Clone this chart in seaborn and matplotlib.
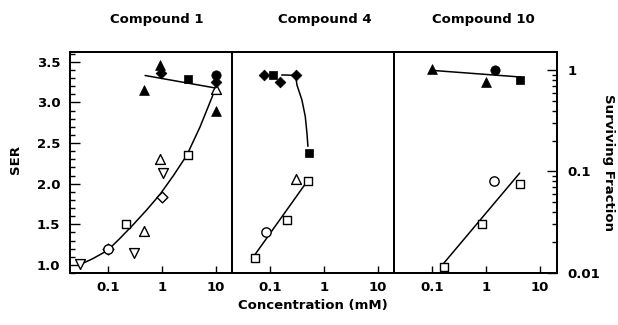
import numpy as np
import pandas as pd
import matplotlib
matplotlib.use("Agg")
import matplotlib.pyplot as plt
from matplotlib.ticker import FixedLocator, FixedFormatter, NullLocator, LogLocator, NullFormatter
import seaborn as sns

sns.set_theme(style="ticks")
plt.rcParams['font.family'] = ['DejaVu Sans']
plt.rcParams['font.weight'] = 'bold'
for k in ["text.color", "axes.labelcolor", "xtick.color", "ytick.color", "axes.edgecolor"]:
    plt.rcParams[k] = "black"

# ---------------- data ----------------
panel_titles = ["Compound 1", "Compound 4", "Compound 10"]
x_ticks = [0.1, 1, 10]
x_tick_labels = ["0.1", "1", "10"]
ser_ticks = [1.0, 1.5, 2.0, 2.5, 3.0, 3.5]
ser_tick_labels = ["1.0", "1.5", "2.0", "2.5", "3.0", "3.5"]
surv_ticks = [0.01, 0.1, 1]
surv_tick_labels = ["0.01", "0.1", "1"]

# Compound 1 : SER (open symbols)
c1_ser_x = [0.03, 0.31, 1.04, 0.10, 1.0, 0.10, 0.22, 3.0, 0.47, 0.93, 10.0]
c1_ser_y = [1.01, 1.15, 2.13, 1.20, 1.83, 1.19, 1.50, 2.35, 1.42, 2.30, 3.17]
c1_ser_exp = ["v", "v", "v", "D", "D", "o", "s", "s", "^", "^", "^"]
c1_ser_fit_x = [0.03, 0.054, 0.1, 0.17, 0.3, 0.53, 0.93, 1.64, 2.9, 5.1, 9.7]
c1_ser_fit_y = [1.0, 1.08, 1.18, 1.33, 1.50, 1.68, 1.87, 2.10, 2.35, 2.70, 3.16]
# Compound 1 : surviving fraction (filled symbols)
c1_sf_x = [0.93, 0.47, 10.0, 0.98, 10.0, 3.0, 10.0]
c1_sf_y = [1.12, 0.64, 0.40, 0.95, 0.76, 0.82, 0.89]
c1_sf_exp = ["^", "^", "^", "D", "D", "s", "o"]
c1_sf_fit_x = [0.49, 9.7]
c1_sf_fit_y = [0.89, 0.67]

# Compound 4 : SER
c4_ser_x = [0.30, 0.50, 0.206, 0.052, 0.085]
c4_ser_y = [2.06, 2.03, 1.55, 1.09, 1.40]
c4_ser_exp = ["^", "s", "s", "s", "o"]
c4_ser_fit_x = [0.052, 0.49]
c4_ser_fit_y = [1.12, 2.03]
# Compound 4 : surviving fraction
c4_sf_x = [0.076, 0.155, 0.30, 0.115, 0.52]
c4_sf_y = [0.89, 0.76, 0.89, 0.90, 0.152]
c4_sf_exp = ["D", "D", "D", "s", "s"]
c4_sf_fit_x = [0.165, 0.2, 0.3, 0.315, 0.39, 0.45, 0.483, 0.504]
c4_sf_fit_y = [0.90, 0.90, 0.89, 0.72, 0.51, 0.35, 0.24, 0.177]

# Compound 10 : SER
c10_ser_x = [1.38, 4.2, 0.84, 0.164]
c10_ser_y = [2.03, 1.99, 1.50, 0.98]
c10_ser_exp = ["o", "s", "s", "s"]
c10_ser_fit_x = [0.164, 4.17]
c10_ser_fit_y = [1.02, 2.13]
# Compound 10 : surviving fraction
c10_sf_x = [0.1, 1.0, 1.44, 4.3]
c10_sf_y = [1.03, 0.775, 1.0, 0.81]
c10_sf_exp = ["^", "^", "o", "s"]
c10_sf_fit_x = [0.1, 4.3]
c10_sf_fit_y = [1.0, 0.86]

panels = [
    (c1_ser_x, c1_ser_y, c1_ser_exp, c1_ser_fit_x, c1_ser_fit_y,
     c1_sf_x, c1_sf_y, c1_sf_exp, c1_sf_fit_x, c1_sf_fit_y),
    (c4_ser_x, c4_ser_y, c4_ser_exp, c4_ser_fit_x, c4_ser_fit_y,
     c4_sf_x, c4_sf_y, c4_sf_exp, c4_sf_fit_x, c4_sf_fit_y),
    (c10_ser_x, c10_ser_y, c10_ser_exp, c10_ser_fit_x, c10_ser_fit_y,
     c10_sf_x, c10_sf_y, c10_sf_exp, c10_sf_fit_x, c10_sf_fit_y),
]

marker_size = {"^": 50, "v": 50, "D": 30, "s": 36, "o": 45}

# ---------------- figure ----------------
fig, axes = plt.subplots(1, 3, figsize=(6.18, 3.25), dpi=100, sharey=True)
fig.subplots_adjust(left=0.1133, right=0.9005, top=0.84, bottom=0.16, wspace=0)

FS = 9.5
for i, (ax, p) in enumerate(zip(axes, panels)):
    sx, sy, sexp, fx, fy, vx, vy, vexp, gx, gy = p
    ax2 = ax.twinx()
    ax.set_xscale("log")
    ax2.set_yscale("log")
    ax.set_xlim(0.02, 20)
    ax.set_ylim(0.90, 3.62)
    ax2.set_ylim(0.0099, 1.52)

    # SER
    ser_df = pd.DataFrame({"conc": sx, "ser": sy, "exp": sexp})
    sns.lineplot(x=fx, y=fy, ax=ax, color="black", lw=1.1, sort=False, estimator=None)
    for m, g in ser_df.groupby("exp"):
        sns.scatterplot(data=g, x="conc", y="ser", ax=ax, marker=m, s=marker_size[m],
                        facecolor="white", edgecolor="black", linewidth=1.0, zorder=3)
    # Surviving fraction
    sf_df = pd.DataFrame({"conc": vx, "sf": vy, "exp": vexp})
    sns.lineplot(x=gx, y=gy, ax=ax2, color="black", lw=1.1, sort=False, estimator=None)
    for m, g in sf_df.groupby("exp"):
        sns.scatterplot(data=g, x="conc", y="sf", ax=ax2, marker=m, s=marker_size[m],
                        color="black", edgecolor="black", linewidth=0.5, zorder=3)

    ax.set_xlabel("")
    ax.set_ylabel("")
    ax2.set_ylabel("")
    ax.xaxis.set_major_locator(FixedLocator(x_ticks))
    ax.xaxis.set_major_formatter(FixedFormatter(x_tick_labels))
    ax.xaxis.set_minor_locator(NullLocator())
    ax.tick_params(axis="x", which="major", direction="in", length=5, width=1,
                   labelsize=FS, pad=6, top=False, colors="black")

    ax.yaxis.set_major_locator(FixedLocator(ser_ticks))
    ax.yaxis.set_major_formatter(FixedFormatter(ser_tick_labels))
    ax.yaxis.set_minor_locator(FixedLocator(np.arange(0.9, 3.61, 0.1)))
    if i == 0:
        ax.tick_params(axis="y", which="major", direction="in", length=7, width=1,
                       labelsize=FS, pad=7, right=False, colors="black")
        ax.tick_params(axis="y", which="minor", direction="in", length=3.5, width=1,
                       right=False, colors="black")
    else:
        ax.tick_params(axis="y", which="both", left=False, right=False, labelleft=False)

    if i == 2:
        ax2.yaxis.set_major_locator(FixedLocator(surv_ticks))
        ax2.yaxis.set_major_formatter(FixedFormatter(surv_tick_labels))
        ax2.yaxis.set_minor_locator(LogLocator(base=10, subs=np.arange(2, 10)))
        ax2.yaxis.set_minor_formatter(NullFormatter())
        ax2.tick_params(axis="y", which="major", direction="in", length=7, width=1,
                        labelsize=FS, pad=8, colors="black")
        ax2.tick_params(axis="y", which="minor", direction="in", length=3.5, width=1,
                        colors="black")
    else:
        ax2.yaxis.set_major_locator(NullLocator())
        ax2.yaxis.set_minor_locator(NullLocator())
        ax2.tick_params(axis="y", which="both", right=False, labelright=False)

    for a in (ax, ax2):
        for sp in a.spines.values():
            sp.set_color("black")
            sp.set_linewidth(1.3)
        a.set_facecolor("none")

title_x = [157, 325, 483]
for t, xpx in zip(panel_titles, title_x):
    fig.text(xpx / 618, 1 - 20 / 325, t, ha="center", va="center", fontsize=FS,
             fontweight="bold", color="black")

fig.text(313 / 618, 1 - 305 / 325, "Concentration (mM)", ha="center", va="center",
         fontsize=FS, fontweight="bold", color="black")
fig.text(15 / 618, 1 - 160 / 325, "SER", ha="center", va="center", rotation=90,
         fontsize=FS, fontweight="bold", color="black")
fig.text(608 / 618, 1 - 162 / 325, "Surviving Fraction", ha="center", va="center",
         rotation=270, fontsize=FS, fontweight="bold", color="black")

fig.savefig("out.png", dpi=100)
